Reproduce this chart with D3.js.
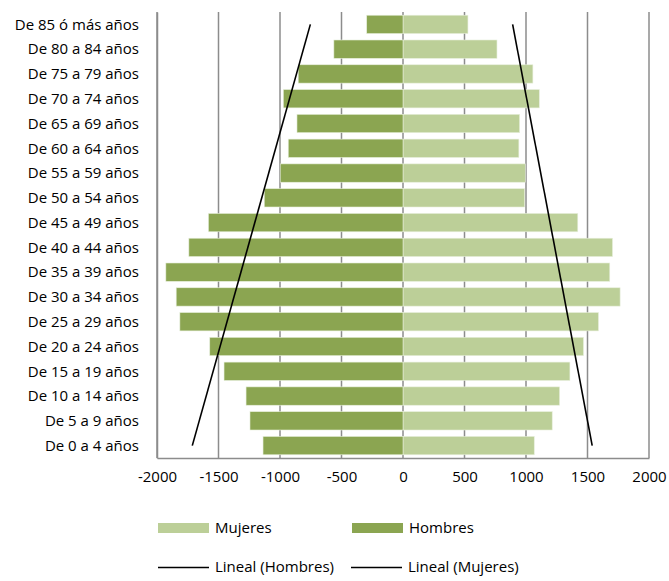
<!DOCTYPE html>
<html><head><meta charset="utf-8">
<script src="https://cdn.jsdelivr.net/npm/d3@7"></script>
<style>body{margin:0;background:#fff}svg{display:block}text{font-family:"Open Sans",sans-serif;fill:#000}</style>
</head><body><svg id="c" width="669" height="581"></svg>
<script>
// Categories from youngest (bottom) to oldest (top)
const categories = ["De 0 a 4 años","De 5 a 9 años","De 10 a 14 años","De 15 a 19 años","De 20 a 24 años","De 25 a 29 años","De 30 a 34 años","De 35 a 39 años","De 40 a 44 años","De 45 a 49 años","De 50 a 54 años","De 55 a 59 años","De 60 a 64 años","De 65 a 69 años","De 70 a 74 años","De 75 a 79 años","De 80 a 84 años","De 85 ó más años"];
const hombres = [-1138,-1244,-1276,-1455,-1571,-1814,-1844,-1928,-1741,-1582,-1128,-998,-933,-862,-973,-852,-562,-295];
const mujeres = [1067,1213,1273,1357,1467,1589,1765,1681,1703,1421,989,994,942,948,1108,1056,764,528];
const xTicks = [-2000,-1500,-1000,-500,0,500,1000,1500,2000];

const svg = d3.select("#c");
const L = 157, R = 649, T = 12, B = 458;
const FONT = "'Open Sans', sans-serif";
const FS = "15px";
const x = d3.scaleLinear().domain([-2000,2000]).range([L,R]);
const y = d3.scaleBand().domain(categories.slice().reverse()).range([T,B]).paddingInner(0.26).paddingOuter(0.13);
const yc = d3.scalePoint().domain(categories.slice().reverse()).range([T,B]).padding(0.5);

const colH = "#8ba551", colM = "#bccf98", grid = "#8c8c8c";

// gridlines
svg.append("g").selectAll("line").data(xTicks).join("line")
  .attr("x1", d=>x(d)).attr("x2", d=>x(d)).attr("y1", T).attr("y2", B)
  .attr("stroke", grid).attr("stroke-width", 1.5);

// bars
svg.append("g").selectAll("rect").data(categories).join("rect")
  .attr("x", x(0))
  .attr("y", c=>y(c)).attr("height", y.bandwidth())
  .attr("width", (c,i)=>x(mujeres[i])-x(0))
  .attr("fill", colM).attr("stroke","#e6eedb").attr("stroke-width",0.6);
svg.append("g").selectAll("rect").data(categories).join("rect")
  .attr("x", (c,i)=>x(hombres[i]))
  .attr("y", c=>y(c)).attr("height", y.bandwidth())
  .attr("width", (c,i)=>x(0)-x(hombres[i]))
  .attr("fill", colH).attr("stroke","#e6eedb").attr("stroke-width",0.6);

// axes
const xAxis = d3.axisBottom(x).tickValues(xTicks).tickSize(0).tickPadding(13).tickFormat(d=>String(d));
const gx = svg.append("g").attr("transform",`translate(0,${B})`).call(xAxis);
gx.select(".domain").attr("stroke", grid).attr("stroke-width",1.5);
gx.selectAll("text").style("font-size",FS).style("font-family",FONT).attr("fill","#000");
const yAxis = d3.axisLeft(yc).tickSize(0).tickPadding(18);
const gy = svg.append("g").attr("transform",`translate(${L},0)`).call(yAxis);
gy.select(".domain").attr("stroke", grid).attr("stroke-width",1.5);
gy.selectAll("text").style("font-size",FS).style("font-family",FONT).attr("fill","#000");

// linear trendlines (least squares over category index)
function fit(vals){
  const n = vals.length, idx = d3.range(1,n+1);
  const mx = d3.mean(idx), my = d3.mean(vals);
  const b = d3.sum(idx,(v,i)=>(v-mx)*(vals[i]-my)) / d3.sum(idx,v=>(v-mx)*(v-mx));
  const a = my - b*mx;
  return [[categories[0], a+b*1],[categories[n-1], a+b*n]];
}
const line = d3.line().x(d=>x(d[1])).y(d=>yc(d[0]));
[fit(hombres), fit(mujeres)].forEach(p=>{
  svg.append("path").attr("d", line(p)).attr("fill","none").attr("stroke","#000").attr("stroke-width",1.6);
});

// legend
const lg = svg.append("g").style("font-size",FS).style("font-family",FONT);
[["Mujeres",colM,158],["Hombres",colH,352]].forEach(([t,c,lx])=>{
  lg.append("rect").attr("x",lx).attr("y",523).attr("width",51).attr("height",10).attr("fill",c);
  lg.append("text").attr("x",lx+57).attr("y",533).text(t);
});
[["Lineal (Hombres)",158],["Lineal (Mujeres)",351]].forEach(([t,lx])=>{
  lg.append("line").attr("x1",lx).attr("x2",lx+51).attr("y1",567.5).attr("y2",567.5).attr("stroke","#000").attr("stroke-width",1.6);
  lg.append("text").attr("x",lx+57).attr("y",572).text(t);
});
</script></body></html>
